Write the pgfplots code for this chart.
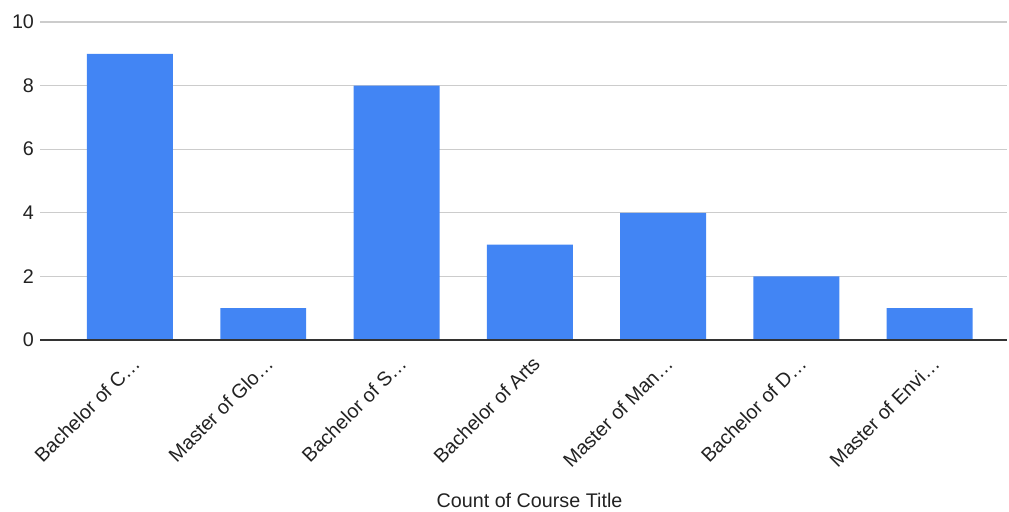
\documentclass[border=0pt]{standalone}
\usepackage{pgfplots}
\pgfplotsset{compat=1.18}
\usepackage{fontspec}
\setmainfont{Liberation Sans}
\definecolor{barblue}{HTML}{4285F4}
\definecolor{gridgray}{HTML}{CCCCCC}
\definecolor{axisdark}{HTML}{333333}
\definecolor{labeltext}{HTML}{222222}

\begin{document}
\begin{tikzpicture}
% fixed page frame around the plot area
\useasboundingbox (-30pt,-128.25pt) rectangle (726.75pt,255pt);
\begin{axis}[
  scale only axis,
  width=725.25pt, height=238.5pt,
  xmin=-0.675, xmax=6.58,
  ymin=0, ymax=10,
  ytick={0,2,4,6,8,10},
  xtick=data,
  xticklabels={Bachelor of C…,Master of Glo…,Bachelor of S…,Bachelor of Arts,Master of Man…,Bachelor of D…,Master of Envi…},
  axis line style={draw=none},
  major tick length=0pt,
  ymajorgrids,
  grid style={gridgray, line width=0.8pt},
  tick label style={font=\fontsize{14.8}{17}\selectfont, text=labeltext},
  /pgf/number format/assume math mode=true,
  yticklabel style={xshift=-1pt},
  xticklabel style={rotate=45, anchor=north east, xshift=-3.9pt, yshift=-5.2pt},
  xlabel={Count of Course Title},
  xlabel style={at={(axis description cs:0.5,0)}, anchor=center, xshift=4.5pt, yshift=-120pt, font=\fontsize{14.8}{17}\selectfont, text=labeltext},
  ybar, bar width=0.645, bar shift=0pt,
]
\addplot[fill=barblue, draw=none] coordinates {
  (0,9) (1,1) (2,8) (3,3) (4,4) (5,2) (6,1)
};
\draw[axisdark, line width=0.8pt] (axis cs:-0.675,0) -- (axis cs:6.58,0);
\end{axis}
\end{tikzpicture}
\end{document}
